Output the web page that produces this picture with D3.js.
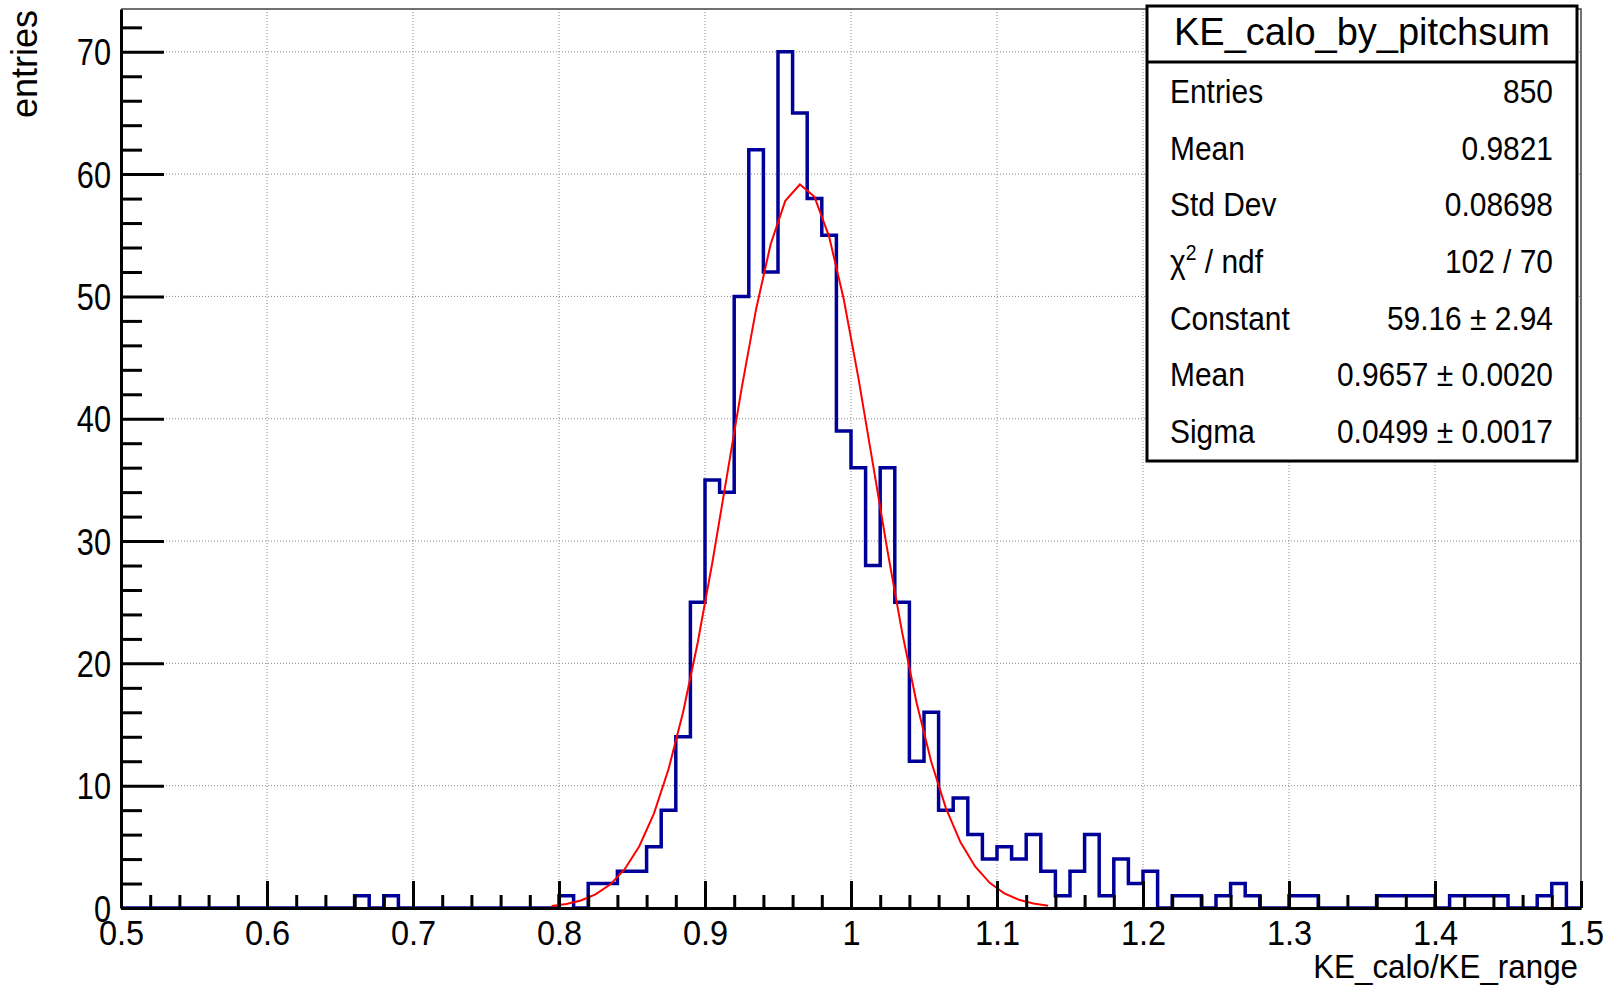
<!DOCTYPE html>
<html>
<head>
<meta charset="utf-8">
<script src="https://cdn.jsdelivr.net/npm/d3@7"></script>
<style>
  body { margin: 0; background: #fff; }
  svg { display: block; font-family: "Liberation Sans", Arial, sans-serif; }
</style>
</head>
<body>
<svg id="chart" width="1603" height="990"></svg>
<script>
// histogram KE_calo_by_pitchsum, 100 bins from 0.5 to 1.5
const xMin = 0.5, xMax = 1.5, binWidth = 0.01;
const binLow = [0.66, 0.68, 0.80, 0.82, 0.83, 0.84, 0.85, 0.86, 0.87, 0.88, 0.89,
  0.90, 0.91, 0.92, 0.93, 0.94, 0.95, 0.96, 0.97, 0.98, 0.99,
  1.00, 1.01, 1.02, 1.03, 1.04, 1.05, 1.06, 1.07, 1.08, 1.09,
  1.10, 1.11, 1.12, 1.13, 1.14, 1.15, 1.16, 1.17, 1.18, 1.19, 1.20,
  1.22, 1.23, 1.25, 1.26, 1.27, 1.30, 1.31, 1.36, 1.37, 1.38, 1.39,
  1.41, 1.42, 1.43, 1.44, 1.47, 1.48];
const binCount = [1, 1, 1, 2, 2, 3, 3, 5, 8, 14, 25,
  35, 34, 50, 62, 52, 70, 65, 58, 55, 39,
  36, 28, 36, 25, 12, 16, 8, 9, 6, 4,
  5, 4, 6, 3, 1, 3, 6, 1, 4, 2, 3,
  1, 1, 1, 2, 1, 1, 1, 1, 1, 1, 1,
  1, 1, 1, 1, 1, 2];

// gaus fit shown in the stats box
const fitConstant = 59.16, fitMean = 0.9657, fitSigma = 0.0499;
const fitRange = [0.79, 1.14];

const xTicks = [0.5, 0.6, 0.7, 0.8, 0.9, 1.0, 1.1, 1.2, 1.3, 1.4, 1.5];
const xTickLabels = ['0.5', '0.6', '0.7', '0.8', '0.9', '1', '1.1', '1.2', '1.3', '1.4', '1.5'];
const yTicks = [0, 10, 20, 30, 40, 50, 60, 70];
const yTickLabels = ['0', '10', '20', '30', '40', '50', '60', '70'];
const yMax = 73.5;

const statsTitle = 'KE_calo_by_pitchsum';
const statsNames = ['Entries', 'Mean', 'Std Dev', 'chi', 'Constant', 'Mean', 'Sigma'];
const statsValues = ['850', '0.9821', '0.08698', '102 / 70', '59.16 \u00b1 2.94',
  '0.9657 \u00b1 0.0020', '0.0499 \u00b1 0.0017'];

const padL = 121, padR = 1581, padT = 9, padB = 908;
const svg = d3.select('#chart');

const x = d3.scaleLinear().domain([xMin, xMax]).range([padL, padR]);
const y = d3.scaleLinear().domain([0, yMax]).range([padB, padT]);

// grid
const grid = svg.append('g')
    .attr('stroke', '#888')
    .attr('stroke-width', 1)
    .attr('stroke-dasharray', '1,2');
grid.selectAll('.gx')
    .data(xTicks.slice(1, -1))
    .enter()
    .append('line')
    .attr('x1', d => x(d)).attr('x2', d => x(d))
    .attr('y1', padT).attr('y2', padB);
grid.selectAll('.gy')
    .data(yTicks.slice(1))
    .enter()
    .append('line')
    .attr('x1', padL).attr('x2', padR)
    .attr('y1', d => y(d)).attr('y2', d => y(d));

// frame top / right
svg.append('path')
    .attr('d', `M${padL},${padT}H${padR}V${padB}`)
    .attr('fill', 'none')
    .attr('stroke', '#444')
    .attr('stroke-width', 1.5);

// histogram outline
const counts = d3.range(Math.round((xMax - xMin) / binWidth)).map(() => 0);
binLow.forEach((b, i) => {
    counts[Math.round((b - xMin) / binWidth)] = binCount[i];
});
const steps = [{ e: xMin, c: 0 }]
    .concat(counts.map((c, i) => ({ e: xMin + i * binWidth, c: c })))
    .concat([{ e: xMax, c: 0 }]);
const histLine = d3.line()
    .x(d => x(d.e))
    .y(d => y(d.c))
    .curve(d3.curveStepAfter);
svg.append('path')
    .datum(steps)
    .attr('d', histLine)
    .attr('fill', 'none')
    .attr('stroke', '#000099')
    .attr('stroke-width', 3.5);

// fit curve, evaluated at bin centres inside the fit range
const fitPoints = counts
    .map((c, i) => xMin + (i + 0.5) * binWidth)
    .filter(v => v > fitRange[0] && v < fitRange[1])
    .map(v => ({ v: v, f: fitConstant * Math.exp(-0.5 * Math.pow((v - fitMean) / fitSigma, 2)) }));
svg.append('path')
    .datum(fitPoints)
    .attr('d', d3.line().x(d => x(d.v)).y(d => y(d.f)))
    .attr('fill', 'none')
    .attr('stroke', '#ff0000')
    .attr('stroke-width', 2);

// x axis
const xMinor = d3.range(0, 51).map(i => xMin + i * 0.02).filter(v => !xTicks.some(t => Math.abs(t - v) < 1e-6));
svg.append('g')
    .attr('transform', `translate(0,${padB})`)
    .call(d3.axisBottom(x).tickValues(xMinor).tickSize(-13).tickSizeOuter(0).tickFormat(''))
    .call(g => g.selectAll('line').attr('stroke-width', 3));
const xAxis = svg.append('g')
    .attr('transform', `translate(0,${padB})`)
    .call(d3.axisBottom(x).tickValues(xTicks).tickSize(-27).tickSizeOuter(0)
        .tickFormat((d, i) => xTickLabels[i]));
xAxis.select('.domain').attr('stroke-width', 3);
xAxis.selectAll('line').attr('stroke-width', 3);
xAxis.selectAll('text')
    .attr('y', 37)
    .attr('dy', null)
    .attr('font-size', 35)
    .attr('fill', '#000')
    .attr('transform', 'scale(0.93,1)');

// y axis
const yMinor = d3.range(0, 37).map(i => i * 2).filter(v => v % 10 !== 0);
svg.append('g')
    .attr('transform', `translate(${padL},0)`)
    .call(d3.axisLeft(y).tickValues(yMinor).tickSize(-21).tickSizeOuter(0).tickFormat(''))
    .call(g => g.selectAll('line').attr('stroke-width', 3))
    .call(g => g.select('.domain').remove());
const yAxis = svg.append('g')
    .attr('transform', `translate(${padL},0)`)
    .call(d3.axisLeft(y).tickValues(yTicks).tickSize(-43).tickSizeOuter(0)
        .tickFormat((d, i) => yTickLabels[i]));
yAxis.select('.domain').attr('stroke-width', 3);
yAxis.selectAll('line').attr('stroke-width', 3);
yAxis.selectAll('text')
    .attr('x', -10 / 0.83)
    .attr('dy', 13)
    .attr('font-size', 37)
    .attr('fill', '#000')
    .attr('transform', 'scale(0.83,1)');

// axis titles
svg.append('text')
    .attr('transform', `translate(1578,978) scale(0.95,1)`)
    .attr('text-anchor', 'end')
    .attr('font-size', 33)
    .text('KE_calo/KE_range');
svg.append('text')
    .attr('transform', 'translate(37,10) rotate(-90)')
    .attr('text-anchor', 'end')
    .attr('font-size', 36)
    .text('entries');

// stats box
const box = { x: 1147, y: 6, w: 430, h: 455 };
svg.append('rect')
    .attr('x', box.x).attr('y', box.y)
    .attr('width', box.w).attr('height', box.h)
    .attr('fill', '#fff')
    .attr('stroke', '#000')
    .attr('stroke-width', 3);
svg.append('line')
    .attr('x1', box.x).attr('x2', box.x + box.w)
    .attr('y1', 62).attr('y2', 62)
    .attr('stroke', '#000')
    .attr('stroke-width', 3);
svg.append('text')
    .attr('x', box.x + box.w / 2)
    .attr('y', 45)
    .attr('text-anchor', 'middle')
    .attr('font-size', 38)
    .text(statsTitle);

const rowY = d3.scaleLinear().domain([0, statsNames.length - 1]).range([103, 443]);
const sx = 0.88;
statsNames.forEach((name, i) => {
    const t = svg.append('text')
        .attr('transform', `translate(1170,${rowY(i)}) scale(${sx},1)`)
        .attr('font-size', 34);
    if (name === 'chi') {
        t.append('tspan').text('\u03c7');
        t.append('tspan').attr('font-size', 22).attr('dy', -13).text('2');
        t.append('tspan').attr('dy', 13).text(' / ndf');
    } else {
        t.text(name);
    }
    svg.append('text')
        .attr('transform', `translate(1553,${rowY(i)}) scale(${sx},1)`)
        .attr('text-anchor', 'end')
        .attr('font-size', 34)
        .text(statsValues[i]);
});
</script>
</body>
</html>
